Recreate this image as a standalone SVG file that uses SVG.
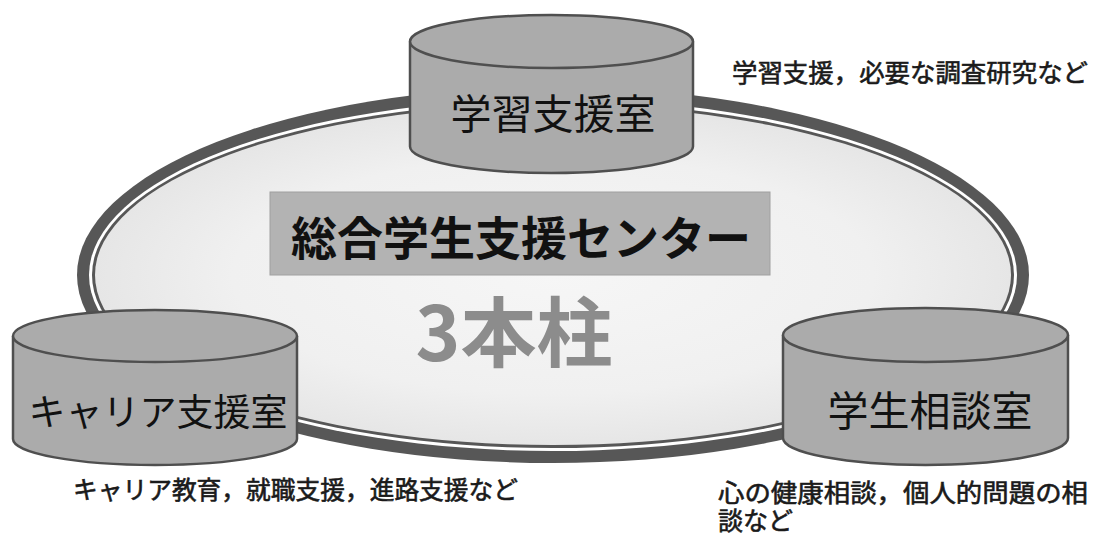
<svg xmlns="http://www.w3.org/2000/svg" width="1101" height="536" viewBox="0 0 1101 536">
  <defs>
    <radialGradient id="hub" cx="50%" cy="50%" r="50%">
      <stop offset="0" stop-color="#f6f6f6"/>
      <stop offset="0.7" stop-color="#f0f0f0"/>
      <stop offset="1" stop-color="#e6e6e6"/>
    </radialGradient>
    <style>
      .band { fill: #575757; }
      .gap { fill: #ffffff; }
      .cyl { fill: #ababab; stroke: #4f4f4f; stroke-width: 2.5; }
      .lbl { font-family: "Noto Sans CJK JP", "Noto Sans", sans-serif; font-size: 41px; fill: #111111; text-anchor: middle; }
      .note { font-family: "Noto Sans CJK JP", "Noto Sans", sans-serif; font-size: 25px; fill: #1a1a1a; stroke: #1a1a1a; stroke-width: 0.6; }
      .title { font-family: "Noto Sans CJK JP", "Noto Sans", sans-serif; font-size: 46px; font-weight: bold; fill: #111111; text-anchor: middle; }
      .big { font-family: "Noto Sans CJK JP", "Liberation Sans", sans-serif; font-size: 76px; font-weight: bold; fill: #8c8c8c; text-anchor: middle; }
    </style>
  </defs>
  <rect width="1101" height="536" fill="#ffffff"/>

  <g id="connectors">
    <g id="ring">
      <ellipse class="band" cx="553" cy="275" rx="476" ry="188"/>
      <ellipse class="gap" cx="553" cy="275" rx="464" ry="176"/>
      <ellipse class="band" cx="553" cy="275" rx="461" ry="173"/>
      <ellipse cx="553" cy="275" rx="458" ry="170" fill="url(#hub)"/>
    </g>
  </g>

  <g id="center">
    <rect x="270" y="192" width="500" height="83" fill="#b3b3b3" stroke="#a0a0a0" stroke-width="1"/>
    <text class="title" x="521" y="255">総合学生支援センター</text>
    <text class="big" x="514" y="361">3本柱</text>
  </g>

  <g id="learning">
    <path class="cyl" d="M410,41.5 L410,146.5 A141.5,26.5 0 0 0 693,146.5 L693,41.5"/>
    <ellipse class="cyl" cx="551.5" cy="41.5" rx="141.5" ry="26.5"/>
    <text class="lbl" x="553" y="129">学習支援室</text>
  </g>

  <g id="career">
    <path class="cyl" d="M13,336 L13,439 A142,26 0 0 0 297,439 L297,336"/>
    <ellipse class="cyl" cx="155" cy="336" rx="142" ry="26"/>
    <text class="lbl" x="158" y="426" style="font-size:37px">キャリア支援室</text>
  </g>

  <g id="counseling">
    <path class="cyl" d="M783,335 L783,438 A142.5,27 0 0 0 1068,438 L1068,335"/>
    <ellipse class="cyl" cx="925.5" cy="335" rx="142.5" ry="27"/>
    <text class="lbl" x="930" y="426">学生相談室</text>
  </g>

  <g id="notes">
    <text class="note" x="732" y="82" textLength="356" lengthAdjust="spacingAndGlyphs">学習支援，必要な調査研究など</text>
    <text class="note" x="73" y="499" textLength="445" lengthAdjust="spacingAndGlyphs">キャリア教育，就職支援，進路支援など</text>
    <text class="note" x="718" y="502" textLength="370" lengthAdjust="spacingAndGlyphs">心の健康相談，個人的問題の相</text>
    <text class="note" x="718" y="530">談など</text>
  </g>
</svg>
